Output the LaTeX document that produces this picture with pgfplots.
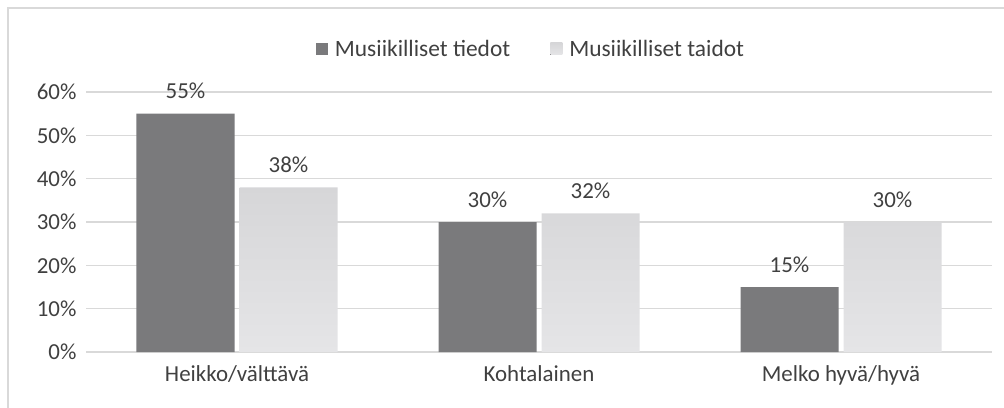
\documentclass[border=0pt]{standalone}
\usepackage{pgfplots}
\pgfplotsset{compat=1.18}
\usepackage{fontspec}
\setmainfont{Carlito}
\definecolor{darkbar}{RGB}{122,122,124}
\definecolor{lighttop}{RGB}{214,214,216}
\definecolor{lightbot}{RGB}{229,229,231}
\definecolor{gridc}{RGB}{217,217,217}
\definecolor{txt}{RGB}{64,64,64}
\begin{document}
\begin{tikzpicture}[x=1bp,y=1bp]
\path[use as bounding box] (-86bp,-56bp) rectangle (918bp,352bp);
\begin{axis}[
  at={(0,0)}, anchor=south west,
  scale only axis, width=906bp, height=260bp,
  ybar=5bp, bar width=98bp,
  xmin=-0.5, xmax=2.5, ymin=0, ymax=60,
  xtick=data, xticklabels={Heikko/välttävä,Kohtalainen,Melko hyvä/hyvä},
  ytick={0,10,20,30,40,50,60},
  yticklabel={\pgfmathprintnumber{\tick}\%},
  /pgf/number format/assume math mode=true,
  ymajorgrids, grid style={gridc, line width=1.2bp},
  axis line style={draw=none},
  axis x line*=bottom, axis y line*=left,
  x axis line style={gridc, line width=1.2bp},
  major tick length=0pt,
  tick label style={font=\fontsize{23}{26}\selectfont, text=txt},
  yticklabel style={xshift=-6bp},
  xticklabel style={yshift=-10bp},
  clip=false,
  nodes near coords={\pgfmathprintnumber{\pgfplotspointmeta}\%},
  nodes near coords style={font=\fontsize{23}{26}\selectfont, text=txt, anchor=south, yshift=11bp},
  legend columns=2,
  legend style={at={(0.5,1)}, xshift=-8bp, yshift=30bp, anchor=south, draw=none, fill=none,
    font=\fontsize{23.5}{26}\selectfont, text=txt,
    /tikz/every even column/.append style={column sep=38bp},
    /tikz/every odd column/.append style={column sep=5bp}},
  legend image code/.code={\fill[#1] (0bp,-6bp) rectangle (12bp,6bp);},
]
\addplot[fill=darkbar, draw=none] coordinates {(0,55) (1,30) (2,15)};
\addplot[top color=lighttop, bottom color=lightbot, draw=none] coordinates {(0,38) (1,32) (2,30)};
\legend{Musiikilliset tiedot, Musiikilliset taidot}
\end{axis}
\draw[gridc, line width=1.5bp] (-78bp,-60bp) -- (-78bp,344bp) -- (930bp,344bp);
\end{tikzpicture}
\end{document}
